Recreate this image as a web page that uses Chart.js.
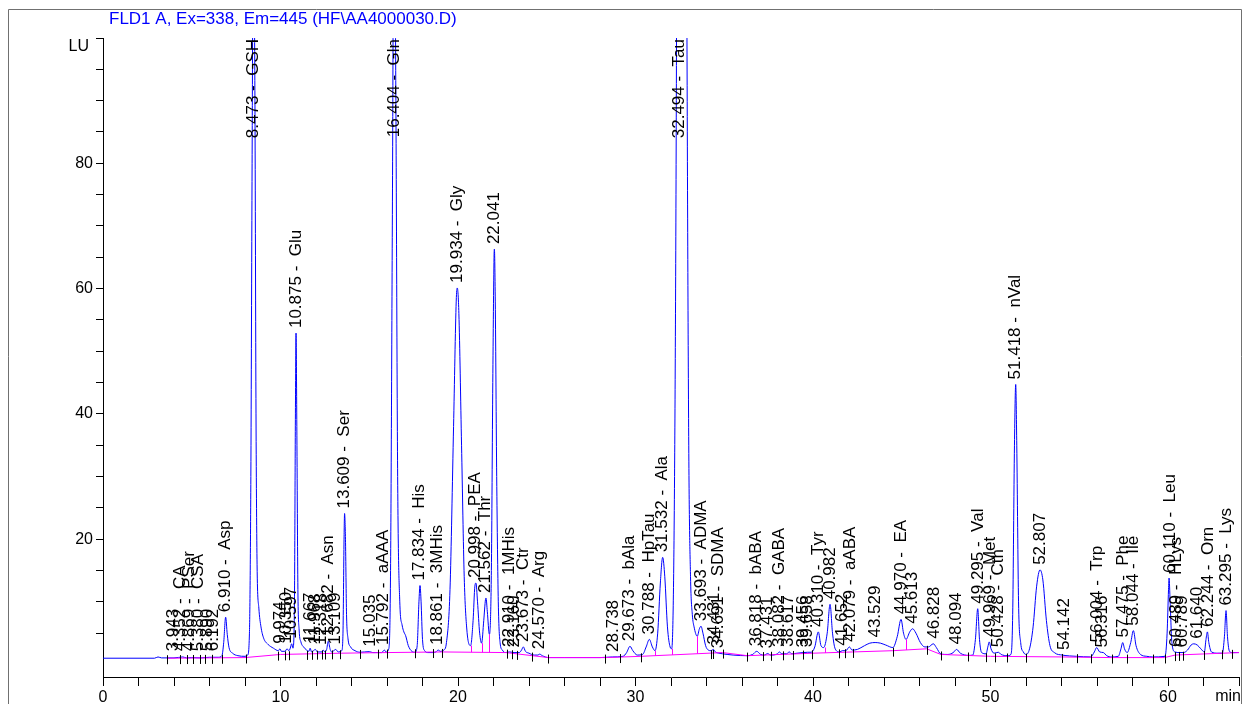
<!DOCTYPE html>
<html>
<head>
<meta charset="utf-8">
<script src="https://cdn.jsdelivr.net/npm/chart.js@4"></script>
<style>
  body { margin: 0; background: #fff; }
  canvas { display: block; }
</style>
</head>
<body>
<canvas id="chrom" width="1243" height="704"></canvas>
<script>
// signal trace: [minutes, LU]
const trace = [
  [0, 1.0], [2.9, 1.0], [3.1, 1.2], [3.3, 1.05], [4.0, 1.05], [4.5, 1.2], [4.7, 1.05], [5.0, 1.1], [5.5, 1.05], [6.0, 1.15], [6.5, 1.15],
  [6.7, 1.4], [6.8, 3.5], [6.91, 7.55], [7.0, 4.8], [7.1, 2.7], [7.3, 1.8], [7.6, 1.4], [8.0, 1.3],
  [8.15, 1.5], [8.25, 5], [8.33, 30], [8.4, 80], [8.47, 120], [8.56, 90], [8.62, 40], [8.68, 16], [8.78, 9], [8.9, 6], [9.05, 4.2], [9.3, 3.2], [9.6, 2.6],
  [9.88, 2.2], [9.97, 2.5], [10.05, 2.1], [10.25, 2.1], [10.37, 2.5], [10.47, 2.2], [10.55, 2.6], [10.63, 3.3], [10.7, 2.6],
  [10.78, 8], [10.84, 40], [10.875, 52.9], [10.92, 38], [10.98, 12], [11.05, 5.5], [11.15, 3.6], [11.3, 2.8], [11.47, 2.3], [11.6, 2.1], [11.67, 2.6], [11.75, 2.0],
  [11.97, 2.4], [12.07, 2.0], [12.32, 2.0], [12.4, 2.3], [12.5, 2.0], [12.6, 2.4], [12.69, 3.7], [12.8, 2.4], [12.88, 2.0], [13.0, 2.2], [13.11, 2.4], [13.25, 2.0], [13.45, 2.2],
  [13.52, 5], [13.58, 20], [13.61, 24.1], [13.66, 20], [13.72, 8], [13.8, 4.2], [13.95, 2.8], [14.2, 2.2], [14.48, 1.95], [15.0, 2.05], [15.2, 1.9], [15.5, 1.9], [15.7, 1.9], [15.85, 2.3], [15.95, 2.0],
  [16.1, 2.5], [16.2, 15], [16.3, 70], [16.4, 130], [16.5, 90], [16.6, 30], [16.72, 10], [16.85, 6.3], [16.95, 5.2], [17.05, 4.6], [17.2, 3.0], [17.4, 2.1], [17.58, 1.95],
  [17.7, 3], [17.8, 10], [17.86, 12.6], [17.92, 10], [18.0, 4], [18.12, 2.2], [18.3, 1.9], [18.61, 1.9], [18.75, 2.0], [18.89, 2.3], [19.0, 2.1], [19.2, 2.3],
  [19.35, 3.5], [19.55, 12], [19.75, 38], [19.9, 58], [19.96, 60.1], [20.05, 56], [20.2, 35], [20.35, 14], [20.5, 5.5], [20.71, 3.0],
  [20.85, 7], [20.95, 12.5], [21.01, 13.0], [21.1, 10], [21.22, 5], [21.33, 3.4],
  [21.45, 7], [21.55, 10.4], [21.58, 10.6], [21.65, 8.5], [21.77, 4.8],
  [21.88, 15], [21.96, 45], [22.03, 65], [22.05, 66.3], [22.1, 58], [22.18, 30], [22.27, 10], [22.37, 3.5], [22.5, 2.3], [22.65, 1.9],
  [22.91, 2.0], [23.16, 1.9], [23.45, 1.9], [23.58, 2.3], [23.68, 2.8], [23.8, 2.1], [24.0, 1.8], [24.3, 1.5], [24.5, 1.5], [24.6, 1.65], [24.75, 1.4], [25.1, 1.1], [26, 1.1], [28, 1.1], [28.7, 1.2],
  [29.3, 1.3], [29.5, 1.9], [29.69, 2.9], [29.85, 2.2], [30.1, 1.5], [30.4, 1.6],
  [30.6, 2.8], [30.78, 4.0], [30.95, 2.8], [31.1, 2.2],
  [31.25, 5], [31.4, 13], [31.53, 17.1], [31.65, 14], [31.8, 6], [31.95, 2.8], [32.04, 2.5],
  [32.2, 30], [32.3, 90], [32.4, 200], [32.6, 300], [32.8, 200], [32.9, 100], [33.0, 35], [33.1, 14], [33.2, 8], [33.3, 6.0], [33.48, 4.5],
  [33.6, 5.7], [33.69, 6.1], [33.8, 5.0], [33.95, 3.0], [34.1, 2.3], [34.25, 2.2], [34.39, 2.4], [34.5, 2.0], [34.7, 1.8], [34.91, 1.7], [35.5, 1.5], [36.3, 1.4],
  [36.6, 1.6], [36.83, 2.1], [37.05, 1.6], [37.26, 1.5], [37.45, 1.75], [37.6, 1.5], [38.0, 1.7], [38.1, 2.0], [38.25, 1.7], [38.5, 1.7], [38.67, 2.0], [38.8, 1.7], [39.1, 1.8], [39.45, 1.9], [39.7, 1.95], [39.9, 1.95],
  [40.1, 2.8], [40.3, 5.2], [40.45, 3.0], [40.6, 2.7],
  [40.8, 5], [40.96, 9.6], [41.1, 5], [41.25, 2.5], [41.5, 2.0], [41.65, 2.2], [41.85, 2.2], [42.05, 2.8], [42.2, 2.3], [42.5, 2.4], [42.9, 3.0], [43.2, 3.4], [43.5, 3.5], [43.8, 3.4], [44.1, 3.1], [44.5, 2.7],
  [44.75, 4.5], [44.96, 7.2], [45.1, 5.0], [45.24, 4.0], [45.45, 5.2], [45.61, 5.7], [45.8, 5.0], [46.05, 3.5], [46.3, 2.8], [46.5, 2.8],
  [46.78, 3.3], [46.95, 2.7], [47.21, 1.65], [47.6, 1.6], [47.9, 1.9], [48.09, 2.4], [48.3, 1.8], [48.75, 1.45], [49.0, 1.5],
  [49.15, 4], [49.28, 8.9], [49.38, 4], [49.5, 1.9], [49.75, 1.7], [49.85, 2.8], [49.93, 3.6], [50.03, 2.5], [50.2, 1.8], [50.44, 1.95], [50.6, 1.6], [50.95, 1.4], [51.15, 1.6],
  [51.25, 8], [51.35, 35], [51.42, 44.7], [51.48, 35], [51.58, 10], [51.7, 3.5], [51.85, 2.0], [52.0, 1.6],
  [52.2, 2.5], [52.4, 6], [52.6, 12.5], [52.79, 15.1], [52.95, 13.5], [53.15, 7], [53.35, 3.0], [53.6, 1.9], [54.05, 1.5], [54.85, 1.3], [55.64, 1.2],
  [55.85, 2.0], [55.98, 2.7], [56.15, 2.0], [56.36, 1.9], [56.55, 1.4], [56.82, 1.2], [57.2, 1.3], [57.35, 2.5], [57.45, 3.5], [57.55, 2.5], [57.7, 1.9],
  [57.9, 3.5], [58.05, 5.4], [58.2, 3.0], [58.45, 1.6], [58.8, 1.3], [59.13, 1.2], [59.83, 1.3],
  [59.95, 5], [60.03, 12], [60.06, 13.8], [60.12, 10], [60.22, 3.5], [60.39, 2.0], [60.64, 1.9], [60.87, 1.9], [61.1, 2.3], [61.3, 3.1], [61.45, 3.3], [61.65, 3.1], [61.85, 2.5], [62.05, 2.0],
  [62.14, 4], [62.22, 5.2], [62.3, 3.5], [62.45, 2.0], [62.8, 1.8], [63.06, 1.8],
  [63.18, 4.5], [63.27, 8.6], [63.35, 4.5], [63.45, 2.2], [63.59, 1.9], [64, 1.9]
];

// integration baseline (magenta)
const baseline = [
  [3.6, 1.0], [8.0, 1.1], [10.0, 1.6], [13.4, 1.8], [16.0, 1.9], [19.1, 2.0], [22.7, 1.9], [25.1, 1.1], [28.3, 1.1], [30.3, 1.3],
  [34.9, 1.9], [36.3, 1.4], [40, 1.8], [44.5, 2.2], [46.4, 2.5], [47.2, 1.6], [50, 1.3], [54.0, 1.2], [56.8, 1.1], [59.8, 1.1], [60.4, 1.5], [64, 1.9]
];

// peak annotations
const peakTimes = [3.943, 4.352, 4.869, 5.380, 5.890, 6.192, 6.910, 8.473, 9.974, 10.350, 10.597, 10.875, 11.667, 11.968, 12.318, 12.682, 13.109, 13.609,
  15.035, 15.792, 16.404, 17.834, 18.861, 19.934, 20.998, 21.562, 22.041, 22.910, 23.160, 23.673, 24.570, 28.738, 29.673, 30.788, 31.532, 32.494,
  33.693, 34.431, 34.691, 36.818, 37.431, 38.082, 38.617, 39.456, 39.658, 40.310, 40.982, 41.652, 42.079, 43.529, 44.970, 45.613, 46.828, 48.094,
  49.295, 49.969, 50.428, 51.418, 52.807, 54.142, 56.004, 56.316, 57.475, 58.044, 60.110, 60.489, 60.789, 61.640, 62.244, 63.295];
const peakNames = ["", "CA", "PSer", "CSA", "", "", "Asp", "GSH", "", "", "", "Glu", "", "", "", "Asn", "", "Ser",
  "", "aAAA", "Gln", "His", "3MHis", "Gly", "PEA", "Thr", "", "1MHis", "", "Ctr", "Arg", "", "bAla", "HpTau", "Ala", "Tau",
  "ADMA", "", "SDMA", "bABA", "", "GABA", "", "", "", "Tyr", "", "", "aABA", "", "EA", "", "", "",
  "Val", "Met", "Cth", "nVal", "", "", "Trp", "", "Phe", "Ile", "Leu", "HLys", "", "", "Orn", "Lys"];
// LU level where each label starts (null = off scale, label hangs from the top)
const peakTops = [1.3, 1.3, 1.3, 1.3, 1.3, 1.3, 7.55, null, 2.5, 2.5, 3.3, 52.9, 2.6, 2.4, 2.3, 3.7, 2.4, 24.1,
  2.05, 2.3, null, 12.6, 2.3, 60.1, 13.0, 10.6, 66.3, 2.0, 1.9, 2.8, 1.65, 1.2, 2.9, 4.0, 17.1, null,
  6.1, 2.4, 1.8, 2.1, 1.75, 2.0, 2.0, 1.9, 1.95, 5.2, 9.6, 2.2, 2.8, 3.5, 7.2, 5.7, 3.3, 2.4,
  8.9, 3.6, 1.95, 44.7, 15.1, 1.5, 2.7, 1.9, 3.5, 5.4, 13.8, 2.0, 1.9, 3.3, 5.2, 8.6];

// peak start/end markers and drop lines
const markTimes = [3.59, 4.34, 4.71, 5.09, 5.46, 5.75, 6.12, 6.69, 8.06, 9.88, 10.25, 10.5, 11.47, 11.75, 12.07, 12.32, 12.5, 12.88, 13.35, 14.48,
  15.51, 15.98, 17.58, 18.61, 19.11, 22.74, 23.02, 23.34, 24.15, 25.09, 28.28, 29.13, 30.31, 34.25, 34.38, 34.91, 36.26, 37.2, 37.66, 38.33,
  38.85, 39.42, 39.92, 41.48, 41.8, 42.27, 44.52, 46.4, 47.21, 48.75, 49.75, 50.25, 50.95, 52.0, 54.05, 54.85, 55.64, 56.82, 57.7, 59.13,
  59.83, 60.39, 60.64, 60.87, 62.05, 63.06, 63.59];
const dropTimes = [20.71, 21.33, 21.77, 31.1, 32.04, 33.48, 40.68, 45.24];
const dropTops = [3.0, 3.4, 4.8, 2.2, 2.5, 4.5, 2.7, 4.0];

const FONT = '"Liberation Sans", Arial, sans-serif';

function baseAt(t) {
  for (let i = 1; i < baseline.length; i++) {
    if (t <= baseline[i][0]) {
      const [t0, v0] = baseline[i - 1], [t1, v1] = baseline[i];
      return v0 + (v1 - v0) * (t - t0) / (t1 - t0);
    }
  }
  return baseline[baseline.length - 1][1];
}

const decor = {
  id: 'decor',
  beforeDraw(chart) {
    const c = chart.ctx;
    c.save();
    c.fillStyle = '#fff';
    c.fillRect(0, 0, chart.width, chart.height);
    c.restore();
  },
  afterDatasetsDraw(chart) {
    const c = chart.ctx, xs = chart.scales.x, ys = chart.scales.y, area = chart.chartArea;
    c.save();

    // drop lines
    c.strokeStyle = '#ff00ff';
    c.lineWidth = 1;
    dropTimes.forEach((t, i) => {
      const x = Math.round(xs.getPixelForValue(t)) + 0.5;
      c.beginPath();
      c.moveTo(x, ys.getPixelForValue(baseAt(t)));
      c.lineTo(x, ys.getPixelForValue(dropTops[i]));
      c.stroke();
    });

    // start/end markers
    c.strokeStyle = '#000';
    markTimes.forEach(t => {
      const x = Math.round(xs.getPixelForValue(t)) + 0.5;
      const y = ys.getPixelForValue(baseAt(t));
      c.beginPath();
      c.moveTo(x, y - 3);
      c.lineTo(x, y + 6);
      c.stroke();
    });

    // peak labels
    c.fillStyle = '#000';
    c.font = '17px ' + FONT;
    c.textBaseline = 'middle';
    peakTimes.forEach((t, i) => {
      const txt = t.toFixed(3) + (peakNames[i] ? ' -  ' + peakNames[i] : '');
      const x = xs.getPixelForValue(t);
      c.save();
      if (peakTops[i] === null) {
        c.translate(x, area.top + 1);
        c.rotate(-Math.PI / 2);
        c.textAlign = 'right';
      } else {
        c.translate(x, ys.getPixelForValue(peakTops[i]) - 5);
        c.rotate(-Math.PI / 2);
        c.textAlign = 'left';
      }
      c.fillText(txt, 0, 0);
      c.restore();
    });
    c.restore();
  },
  afterDraw(chart) {
    const c = chart.ctx, area = chart.chartArea;
    c.save();
    // outer frame
    c.strokeStyle = '#707070';
    c.lineWidth = 1;
    c.beginPath();
    c.moveTo(8.5, chart.height);
    c.lineTo(8.5, 9.5);
    c.lineTo(1241.5, 9.5);
    c.lineTo(1241.5, chart.height);
    c.stroke();

    c.fillStyle = '#0000ff';
    c.font = '17px ' + FONT;
    c.textAlign = 'left';
    c.textBaseline = 'middle';
    c.fillText('FLD1 A, Ex=338, Em=445 (HF\\AA4000030.D)', 109, 19);

    c.fillStyle = '#000';
    c.font = '16px ' + FONT;
    c.textAlign = 'right';
    c.fillText('LU', 89, 47);
    c.fillText('min', 1241, 697);
    c.restore();
  }
};

new Chart(document.getElementById('chrom').getContext('2d'), {
  type: 'line',
  data: {
    datasets: [
      {
        data: baseline.map(([x, y]) => ({ x, y })),
        borderColor: '#ff00ff',
        borderWidth: 1,
        pointRadius: 0,
        tension: 0
      },
      {
        data: trace.map(([x, y]) => ({ x, y })),
        borderColor: '#0000ff',
        borderWidth: 1,
        pointRadius: 0,
        cubicInterpolationMode: 'monotone'
      }
    ]
  },
  options: {
    responsive: false,
    animation: false,
    layout: { padding: { top: 38, right: 4, left: 0, bottom: 0 } },
    plugins: { legend: { display: false }, tooltip: { enabled: false } },
    scales: {
      x: {
        type: 'linear',
        min: 0,
        max: 64,
        afterBuildTicks: s => { s.ticks = s.ticks.filter(t => t.value % 2 === 0); },
        ticks: {
          stepSize: 2,
          autoSkip: false,
          maxRotation: 0,
          padding: 2,
          color: '#000',
          font: { size: 16, family: FONT },
          callback: v => (v % 10 === 0 && v < 64 ? v : '')
        },
        grid: { drawOnChartArea: false, tickLength: 9, color: '#000' },
        border: { color: '#000' },
        afterFit: s => { s.height = 27; }
      },
      y: {
        min: -2,
        max: 100,
        afterBuildTicks: s => { s.ticks = s.ticks.filter(t => t.value % 5 === 0); },
        ticks: {
          stepSize: 5,
          autoSkip: false,
          padding: 3,
          color: '#000',
          font: { size: 16, family: FONT },
          callback: v => (v % 20 === 0 && v < 100 ? v : '')
        },
        grid: { drawOnChartArea: false, tickLength: 7, color: '#000' },
        border: { color: '#000' },
        afterFit: s => { s.width = 103; }
      }
    }
  },
  plugins: [decor]
});
</script>
</body>
</html>
